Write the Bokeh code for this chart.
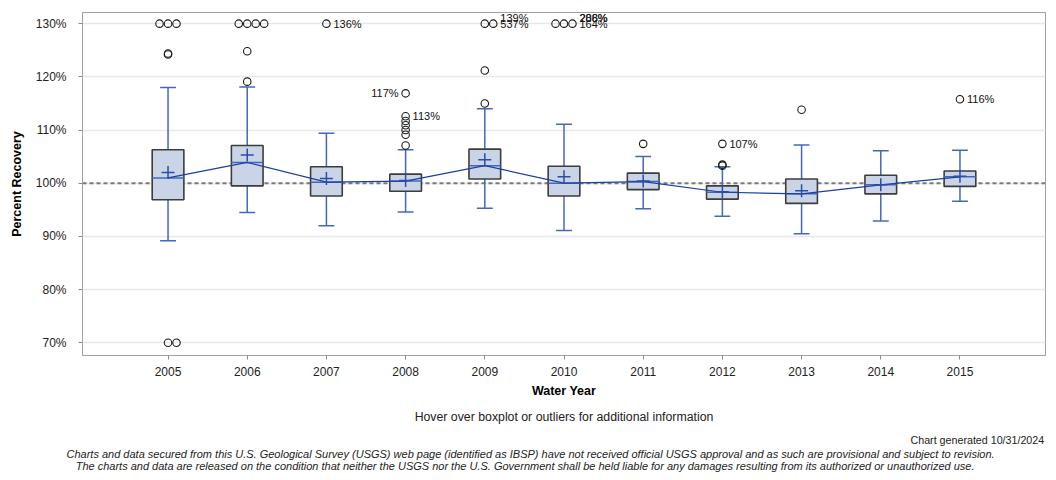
from bokeh.plotting import figure
from bokeh.models import ColumnDataSource, Span, Title, FixedTicker, PrintfTickFormatter, Range1d
from bokeh.core.properties import value
from bokeh.embed import file_html
from bokeh.resources import INLINE

# ---------------- data ----------------
years = [2005, 2006, 2007, 2008, 2009, 2010, 2011, 2012, 2013, 2014, 2015]
whisker_low = [89.2, 94.5, 92.0, 94.6, 95.3, 91.1, 95.2, 93.8, 90.5, 92.9, 96.6]
q1 = [96.9, 99.5, 97.6, 98.5, 100.8, 97.6, 98.8, 97.0, 96.2, 98.0, 99.4]
median = [101.0, 103.9, 100.2, 100.4, 103.3, 100.0, 100.3, 98.3, 98.0, 99.7, 101.2]
q3 = [106.3, 107.1, 103.1, 101.7, 106.4, 103.2, 101.9, 99.5, 100.8, 101.5, 102.3]
whisker_high = [118.0, 118.1, 109.4, 106.3, 114.0, 111.1, 105.0, 103.1, 107.2, 106.1, 106.2]
mean = [102.0, 105.3, 100.9, 100.5, 104.4, 101.2, 100.4, 98.4, 98.6, 99.7, 101.3]

# outliers (values beyond the axis are shown at the axis limit)
out_year = ([2005] * 7 + [2006] * 6 + [2007] + [2008] * 7 + [2009] * 4 + [2010] * 3
            + [2011] + [2012] * 3 + [2013] + [2015])
out_value = [130, 130, 130, 124.4, 124.2, 70, 70,
             130, 130, 130, 130, 124.8, 119.1,
             130,
             116.9, 112.6, 111.7, 110.9, 110.0, 109.1, 107.1,
             130, 130, 121.2, 115.0,
             130, 130, 130,
             107.4,
             107.4, 103.5, 103.3,
             113.8,
             115.8]

# labelled outliers
label_year = [2007, 2008, 2008, 2009, 2009, 2010, 2010, 2010, 2012, 2015]
label_value = [130, 116.9, 112.6, 130, 130, 130, 130, 130, 107.4, 115.8]
label_text = ["136%", "117%", "113%", "139%", "537%", "288%", "206%", "164%", "107%", "116%"]

y_ticks = [70, 80, 90, 100, 110, 120, 130]
reference_level = 100
y_min, y_max = 70, 130

# ---------------- figure ----------------
FONT = "Liberation Sans"
p = figure(width=1048, height=476, output_backend="svg", toolbar_location=None,
           x_range=Range1d(years[0] - 1.08, years[-1] + 1.08),
           y_range=Range1d(67.6, 132.1),
           min_border_left=82, min_border_right=3, min_border_top=12, min_border_bottom=121)
p.outline_line_color = "#a0a0a0"
p.outline_line_width = 1
p.background_fill_color = "white"
p.border_fill_color = "white"

p.xgrid.visible = False
p.ygrid.grid_line_color = "#e8e8e8"
p.ygrid.grid_line_width = 1.5

p.yaxis.ticker = FixedTicker(ticks=y_ticks)
p.yaxis.formatter = PrintfTickFormatter(format="%d%%")
p.xaxis.ticker = FixedTicker(ticks=years)
for ax in (p.xaxis, p.yaxis):
    ax.axis_line_color = None
    ax.major_tick_line_color = "#8a8a8a"
    ax.major_tick_out = 4
    ax.major_tick_in = 0
    ax.minor_tick_line_color = None
    ax.major_label_text_font = FONT
    ax.major_label_text_font_size = "12px"
    ax.major_label_text_color = "#222222"
    ax.axis_label_text_font = FONT
    ax.axis_label_text_font_size = "12.5px"
    ax.axis_label_text_font_style = "bold"
    ax.axis_label_text_color = "black"
p.xaxis.axis_label = "Water Year"
p.yaxis.axis_label = "Percent Recovery"
p.xaxis.major_label_standoff = 7
p.xaxis.axis_label_standoff = 5
p.yaxis.major_label_standoff = 12
p.yaxis.axis_label_standoff = 9

# reference line
p.add_layout(Span(location=reference_level, dimension="width", line_color="#7a7a7a",
                  line_width=2, line_dash="4 3", level="underlay"))

# ---------------- boxes ----------------
box_w = 0.4
cap_w = 0.2
src = ColumnDataSource(dict(x=years, lo=whisker_low, q1=q1, med=median, q3=q3, hi=whisker_high,
                            mean=mean,
                            cl=[y - cap_w / 2 for y in years], cr=[y + cap_w / 2 for y in years],
                            bl=[y - box_w / 2 for y in years], br=[y + box_w / 2 for y in years]))
whisk = "#4468b8"
p.segment(x0="x", y0="q3", x1="x", y1="hi", source=src, line_color=whisk, line_width=1.5)
p.segment(x0="x", y0="q1", x1="x", y1="lo", source=src, line_color=whisk, line_width=1.5)
p.segment(x0="cl", y0="hi", x1="cr", y1="hi", source=src, line_color=whisk, line_width=1.5)
p.segment(x0="cl", y0="lo", x1="cr", y1="lo", source=src, line_color=whisk, line_width=1.5)
p.vbar(x="x", width=box_w, bottom="q1", top="q3", source=src, fill_color="#c9d5e7",
       line_color="#3c3c3c", line_width=1.6)
p.segment(x0="bl", y0="med", x1="br", y1="med", source=src, line_color="#4468b8", line_width=1.5)
p.line(x="x", y="med", source=src, line_color="#1f3f9f", line_width=1.2)
p.scatter(x="x", y="mean", source=src, marker="cross", size=13, line_color="#2a4ea8",
          line_width=1.5)

# ---------------- outliers ----------------
step = 0.107
ox, oy = [], []
group_right = {}
for yr in years:
    vals = [v for (y, v) in zip(out_year, out_value) if y == yr]
    for lim in (y_max, y_min):
        n = sum(1 for v in vals if v == lim)
        start = -((n - 1) // 2)
        for i in range(n):
            ox.append(yr + (start + i) * step)
            oy.append(lim)
        if n:
            group_right[(yr, lim)] = yr + (start + n - 1) * step
    for v in vals:
        if v not in (y_max, y_min):
            ox.append(yr)
            oy.append(v)
p.scatter(ox, oy, marker="circle", size=7.5, fill_color=None, line_color="#1a1a1a", line_width=1.1)

# labels
left_labels = {"117%"}
rx, ry, rt, ryo = [], [], [], []
lx, ly, lt = [], [], []
for i, (yr, v, t) in enumerate(zip(label_year, label_value, label_text)):
    xpos = group_right.get((yr, v), yr)
    # stacked labels at the same clamped point: all but the last one are lifted
    later_same = any(label_year[j] == yr and label_value[j] == v for j in range(i + 1, len(label_text)))
    lift = -6 if (v in (y_max, y_min) and later_same) else 0
    if t in left_labels:
        lx.append(xpos); ly.append(v); lt.append(t)
    else:
        rx.append(xpos); ry.append(v); rt.append(t); ryo.append(lift)
p.text(x=rx, y=ry, text=rt, y_offset=ryo, x_offset=7, text_align="left", text_baseline="middle",
       text_font=value(FONT), text_font_size=value("11px"), text_color="#111111")
p.text(x=lx, y=ly, text=lt, x_offset=-7, text_align="right", text_baseline="middle",
       text_font=value(FONT), text_font_size=value("11px"), text_color="#111111")

# ---------------- footer ----------------
def add_below(text, size, align="center", style="normal", standoff=0, offset=0):
    t = Title(text=text, align=align, text_font=FONT, text_font_size=size,
              text_font_style=style, text_color="#222222", standoff=standoff, offset=offset)
    p.add_layout(t, "below")

add_below("Hover over boxplot or outliers for additional information", "12.3px", standoff=15)
add_below("Chart generated 10/31/2024", "10.7px", align="left", standoff=0, offset=828)
add_below("Charts and data secured from this U.S. Geological Survey (USGS) web page (identified as IBSP) "
          "have not received official USGS approval and as such are provisional and subject to revision.\n"
          "\u00a0\u00a0\u00a0The charts and data are released on the condition that neither the USGS nor the U.S. "
          "Government shall be held liable for any damages resulting from its authorized or unauthorized use.",
          "11px", align="left", style="italic", standoff=0, offset=-16)

open("out.html", "w").write(file_html(p, INLINE))
